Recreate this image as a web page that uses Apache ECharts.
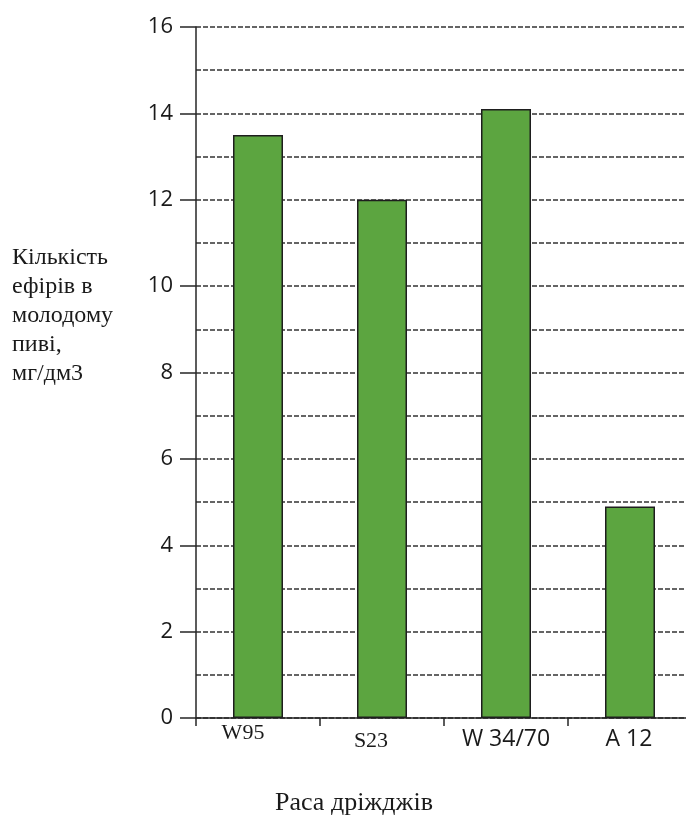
<!DOCTYPE html>
<html>
<head>
<meta charset="utf-8">
<script src="https://cdn.jsdelivr.net/npm/echarts@6/dist/echarts.min.js"></script>
<style>
  html, body { margin: 0; padding: 0; background: #fff; overflow: hidden; }
  /* The plot runs slightly past the right edge of the window */
  #chart { width: 700px; height: 821px; }
</style>
</head>
<body>
<div id="chart"></div>
<script>
// Yeast strains and ester content in young beer, mg/dm3
const strains = ['W95', 'S23', 'W 34/70', 'A 12'];
const esters = [13.5, 12.0, 14.1, 4.9];
const labelStyles = ['s1', 's2', 's3', 's4'];
const yTitleLines = ['Кількість', 'ефірів в', 'молодому', 'пиві,', 'мг/дм3'];
const xTitle = 'Раса дріжджів';

const ink = '#262626';
const textInk = '#1a1a1a';
const serif = '"Liberation Serif", "DejaVu Serif", serif';
const sans = '"Open Sans", "Noto Sans", sans-serif';

const chart = echarts.init(document.getElementById('chart'), null, { renderer: 'canvas' });

chart.setOption({
  animation: false,
  backgroundColor: '#ffffff',
  grid: { left: 196, right: 8, top: 27, bottom: 103, containLabel: false },
  xAxis: {
    type: 'category',
    data: strains,
    boundaryGap: true,
    axisLine: { show: true, lineStyle: { color: ink, width: 1.5 } },
    axisTick: { show: true, alignWithLabel: false, length: 8, lineStyle: { color: ink, width: 1.5 } },
    axisLabel: {
      margin: 4,
      formatter: (v, i) => '{' + labelStyles[i] + '|' + v + '}',
      rich: {
        s1: { fontFamily: serif, fontSize: 22, lineHeight: 22, color: textInk, padding: [0, 30, 0, 0] },
        s2: { fontFamily: serif, fontSize: 22, lineHeight: 22, color: textInk, padding: [17, 22, 0, 0] },
        s3: { fontFamily: sans, fontSize: 23, lineHeight: 23, color: textInk, padding: [11, 0, 0, 0] },
        s4: { fontFamily: sans, fontSize: 23, lineHeight: 23, color: textInk, padding: [11, 2, 0, 0] }
      }
    },
    splitLine: { show: false }
  },
  yAxis: {
    type: 'value',
    min: 0,
    max: 16,
    interval: 2,
    axisLine: { show: true, lineStyle: { color: ink, width: 1.5 } },
    axisTick: { show: true, length: 16, lineStyle: { color: ink, width: 1.5 } },
    axisLabel: { margin: 23, fontFamily: sans, fontSize: 22, color: textInk },
    splitLine: { show: true, lineStyle: { color: '#333333', width: 1.5, type: [5, 2] } },
    minorTick: { show: false, splitNumber: 2 },
    minorSplitLine: { show: true, lineStyle: { color: '#333333', width: 1.5, type: [5, 2] } }
  },
  graphic: [
    {
      type: 'text',
      left: 12,
      top: 243,
      style: {
        text: yTitleLines.join('\n'),
        fontFamily: serif,
        fontSize: 24,
        lineHeight: 29,
        fill: textInk
      }
    },
    {
      type: 'text',
      left: 275,
      top: 790,
      style: {
        text: xTitle,
        fontFamily: serif,
        fontSize: 26,
        fill: textInk
      }
    }
  ],
  series: [{
    type: 'bar',
    data: esters,
    barWidth: 50,
    itemStyle: { color: '#5ca540', borderColor: '#1e1e1e', borderWidth: 1.5 },
    z: 3
  }]
});
</script>
</body>
</html>
